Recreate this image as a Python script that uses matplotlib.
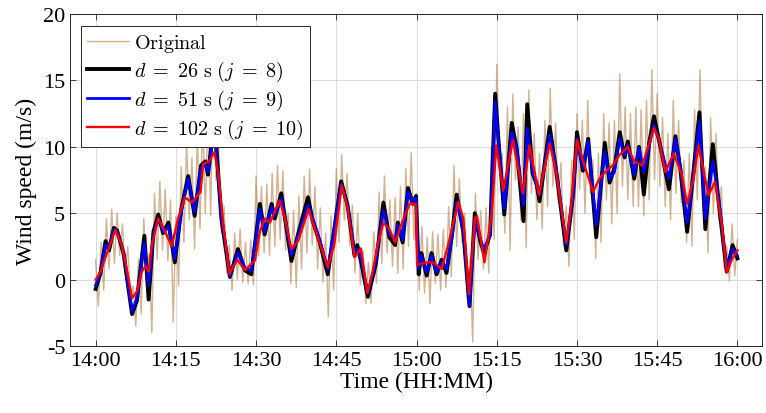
import numpy as np
import matplotlib.pyplot as plt

# minutes after 14:00, values in m/s
red_t = [0, 0.9, 2.2, 3.7, 4.9, 5.9, 6.8, 7.7, 8.6, 9.3, 9.9, 10.5, 11.7, 13.0, 14.2, 15.4, 16.7,
         18.0, 19.6, 20.1, 21.2, 22.2, 23.0, 23.9, 25.0, 26.5, 27.9, 29.8, 30.7, 31.6, 32.6, 34.4,
         35.4, 36.6, 37.9, 39.8, 41.5, 43.4, 44.6, 46.0, 47.1, 48.4, 49.6, 50.8, 51.8, 52.7, 53.8,
         54.9, 56.0, 57.1, 58.7, 59.9, 60.1, 61.9, 63.1, 64.7, 65.9, 67.8, 68.75, 69.8, 70.9, 71.3,
         72.7, 74.1, 74.9, 76.2, 78.0, 79.9, 81.1, 82.9, 84.9, 86.1, 88.0, 88.9, 90.0, 91.4, 93.0,
         94.2, 95.5, 96.7, 98.0, 99.5, 100.7, 102.2, 104.4, 105.3, 106.5, 108.1, 109.6, 110.6,
         111.8, 112.7, 114.6, 115.8, 117.1, 118.0, 119.0, 120.0]
red_v = [0.0, 0.6, 2.1, 3.75, 2.6, 0.6, -1.4, -0.9, 0.6, 1.0, 0.6, 2.6, 4.6, 3.6, 2.5, 4.6, 6.2,
         5.8, 6.6, 8.7, 8.9, 9.6, 7.8, 4.0, 0.45, 1.5, 0.7, 1.45, 3.6, 4.6, 4.3, 5.95,
         4.6, 2.3, 2.95, 5.3, 3.2, 0.95, 2.6, 7.1, 5.4, 1.7, 2.35, -1.0, 0.6, 2.6, 4.3,
         3.8, 2.8, 4.1, 5.7, 5.7, 1.1, 1.3, 1.3, 0.8, 2.6, 5.85, 4.6, -1.1, 4.6, 4.8,
         1.3, 5.1, 10.1, 6.7, 10.5, 6.5, 10.1, 6.4, 10.25, 8.1, 2.8, 5.6, 10.5, 8.6, 6.6,
         7.6, 8.2, 8.6, 9.4, 10.0, 8.9, 8.6, 11.4, 10.6, 8.1, 9.5, 7.9, 5.7,
         7.6, 10.1, 6.35, 7.35, 4.1, 0.55, 1.55, 2.2]

blue_t = [0, 0.9, 1.85, 2.5, 3.4, 4.0, 5.2, 6.8, 7.7, 9.1, 9.9, 10.8, 11.7, 12.6, 13.6, 14.8, 16.0,
          17.3, 18.5, 19.7, 20.5, 21.0, 22.2, 23.5, 25.1, 26.6, 27.9, 29.1, 30.7, 31.6, 32.9, 33.5,
          34.7, 36.6, 37.9, 39.7, 40.6, 41.9, 43.4, 45.9, 47.1, 48.4, 48.9, 49.6, 50.9, 52.4, 53.8,
          54.9, 56.0, 56.5, 57.4, 58.4, 59.3, 59.9, 60.4, 60.9, 61.9, 62.8, 63.75, 64.7, 65.6, 66.6,
          67.5, 68.75, 69.9, 70.9, 71.9, 72.6, 73.75, 74.7, 75.3, 76.4, 77.8, 78.75, 80.0, 80.7,
          81.7, 82.4, 83.0, 84.9, 86.1, 88.0, 89.3, 90.0, 91.1, 92.1, 93.6, 95.2, 96.1, 97.0, 98.0,
          98.9, 99.5, 100.7, 101.6, 102.5, 103.5, 104.4, 105.6, 107.2, 108.4, 109.3, 110.6, 111.7,
          112.9, 114.0, 115.4, 116.5, 118.0, 119.1, 120.0]
blue_v = [-0.4, 0.6, 2.6, 2.4, 3.75, 3.6, 2.1, -2.4, -1.4, 2.75, -0.4, 3.4, 4.6, 3.6, 4.0, 1.6, 5.1,
          7.6, 5.1, 8.4, 8.6, 8.1, 11.3, 4.8, 0.3, 2.05, 0.9, 0.65, 5.3, 3.6, 5.45, 4.8,
          6.1, 1.85, 3.35, 5.6, 4.6, 3.0, 0.8, 7.2, 5.6, 2.1, 2.3, 1.6, -1.0, 1.4, 5.2,
          3.4, 3.0, 4.1, 3.0, 6.6, 5.9, 6.1, 0.85, 1.8, 0.55, 1.8, 0.55, 1.3, 0.8, 3.1,
          5.85, 3.8, -1.95, 4.6, 3.1, 2.3, 3.3, 13.4, 10.6, 5.35, 11.1, 9.9, 5.6, 11.4,
          8.1, 7.1, 6.35, 10.9, 8.4, 2.6, 6.35, 10.6, 8.4, 10.4, 4.1, 9.6, 7.6, 8.1, 10.6,
          9.4, 10.1, 7.9, 9.9, 8.1, 10.1, 11.6, 10.1, 7.6, 10.6, 8.6, 4.3, 7.6,
          11.9, 4.6, 8.9, 6.1, 0.8, 2.3, 1.8]

black_t = blue_t
black_v = [-0.7, 0.5, 2.9, 2.2, 3.9, 3.7, 2.0, -2.6, -1.6, 3.3, -1.5, 3.6, 4.9, 3.5, 4.3, 1.3, 5.3,
           7.8, 4.8, 8.6, 8.9, 7.9, 12.0, 4.6, 0.2, 2.3, 0.7, 0.4, 5.7, 3.4, 5.7, 4.6,
           6.5, 1.4, 3.5, 6.2, 4.4, 2.8, 0.4, 7.4, 5.6, 1.8, 2.6, 1.4, -1.3, 1.2, 5.8,
           3.2, 2.6, 4.3, 2.8, 6.9, 5.7, 6.3, 0.4, 2.0, 0.3, 2.0, 0.4, 1.5, 0.5, 3.3,
           6.4, 3.6, -2.0, 5.0, 2.9, 2.0, 3.4, 14.0, 10.6, 4.9, 11.8, 9.8, 4.4, 13.2,
           8.0, 7.3, 5.9, 11.5, 8.2, 2.2, 6.5, 11.1, 8.2, 10.6, 3.2, 10.3, 7.3, 8.4, 11.1,
           9.2, 10.4, 7.6, 10.0, 6.4, 10.3, 12.3, 10.0, 6.8, 10.8, 8.4, 3.6, 7.8,
           12.6, 3.8, 10.2, 5.8, 0.6, 2.6, 1.6]

# upper and lower extent of the raw signal, one pair per minute
orig_peak = [1.5, 2.8, 4.6, 5.3, 5.0, 4.2, 2.5, -0.5, 1.5, 4.6, 2.0, 6.5, 7.4, 6.8, 6.0, 4.8,
             8.5, 10.4, 9.2, 11.0, 12.3, 13.0, 15.0, 10.0, 5.5, 2.6, 3.5, 3.8, 2.8, 3.0, 7.8,
             7.0, 7.2, 8.0, 8.6, 8.2, 5.0, 5.2, 6.3, 7.8, 8.3, 7.0, 5.4, 3.5, 4.8, 8.4, 9.4,
             8.0, 5.6, 5.0, 2.2, 1.3, 3.6, 6.6, 7.8, 6.0, 6.2, 7.0, 8.4, 9.6, 6.5, 4.0, 3.2,
             3.6, 3.4, 3.8, 5.5, 8.6, 7.6, 5.0, 1.5, 6.5, 5.2, 5.4, 10.0, 16.2, 9.5, 13.0,
             14.0, 11.5, 12.5, 14.3, 11.0, 9.5, 12.0, 14.4, 11.8, 8.8, 5.5, 9.0, 12.5, 12.0,
             13.5, 9.0, 9.5, 12.5, 11.8, 12.0, 15.5, 13.0, 12.5, 13.0, 12.8, 13.5, 15.8, 14.0,
             12.2, 11.0, 13.5, 12.0, 9.0, 9.5, 12.8, 15.8, 8.5, 12.2, 11.0, 7.0, 2.5, 4.2, 3.0]
orig_trough = [-2.0, -0.8, 0.8, 1.2, 1.8, 0.5, -1.5, -3.5, -2.6, 0.0, -4.0, 1.5, 2.2, 1.4, -3.2,
               -0.5, 2.8, 4.5, 2.3, 3.8, 5.0, 4.8, 7.5, 3.5, 0.5, -0.8, 0.0, -0.2, -0.3, -0.4,
               1.8, 2.0, 1.8, 2.5, 3.0, 2.2, -0.3, -0.6, 0.8, 2.0, 2.6, 0.8, -0.2, -2.8, -0.8,
               2.8, 4.5, 2.6, 0.5, -0.4, -1.8, -1.8, -0.3, 1.2, 2.0, 1.0, 0.5, 0.8, 2.5, 3.0,
               -0.8, -1.0, -1.8, -0.3, -0.8, -0.6, 0.2, 2.5, 2.8, -1.5, -4.7, 1.5, 0.8, 0.5,
               3.0, 9.0, 3.5, 2.2, 7.5, 4.5, 2.4, 6.5, 4.5, 3.8, 5.5, 7.0, 5.8, 2.5, 1.0, 3.0,
               6.8, 5.0, 6.5, 1.6, 2.8, 6.0, 4.2, 5.0, 7.0, 6.0, 5.5, 5.5, 4.8, 6.0, 7.5, 7.0,
               5.5, 4.5, 6.5, 5.8, 2.8, 2.5, 6.0, 7.0, 2.0, 5.0, 4.5, 1.0, -0.1, 0.3, 0.6]

tick_min = [0, 15, 30, 45, 60, 75, 90, 105, 120]
tick_lbl = ['14:00', '14:15', '14:30', '14:45', '15:00', '15:15', '15:30', '15:45', '16:00']

# raw signal: peak on the minute, trough half a minute later
orig_t, orig_v = [], []
for i in range(len(orig_peak)):
    orig_t += [i, i + 0.5]
    orig_v += [orig_peak[i], orig_trough[i]]
orig_t, orig_v = orig_t[:-1], orig_v[:-1]

plt.rcParams['font.family'] = 'Liberation Serif'
plt.rcParams['mathtext.fontset'] = 'cm'
plt.rcParams['axes.unicode_minus'] = False

fig = plt.figure(figsize=(7.66, 4.14), dpi=100)
ax = fig.add_axes([0.0914, 0.1618, 0.9034, 0.802])

ax.plot(orig_t, orig_v, color=(0.68, 0.45, 0.22), alpha=0.55, lw=1.0, label=r'$\mathrm{Original}$')
ax.plot(black_t, black_v, color='black', lw=2.8, label=r'$d\;=\;26\ \mathrm{s}\ (j\;=\;8)$')
ax.plot(blue_t, blue_v, color='#0000ff', lw=2.0, label=r'$d\;=\;51\ \mathrm{s}\ (j\;=\;9)$')
ax.plot(red_t, red_v, color='#ff0000', lw=1.7, label=r'$d\;=\;102\ \mathrm{s}\ (j\;=\;10)$')

ax.set_xlim(-4.8, 124.6)
ax.set_ylim(-5, 20)
ax.set_xticks(tick_min)
ax.set_xticklabels(tick_lbl)
ax.set_yticks([-5, 0, 5, 10, 15, 20])
ax.tick_params(direction='in', length=4, width=0.6, labelsize=16, colors='#262626',
               top=True, right=True, labelcolor='black')
ax.grid(True, color='#dcdcdc', lw=0.8)
ax.set_axisbelow(True)
for s in ax.spines.values():
    s.set_color('#262626')
    s.set_linewidth(0.7)

ax.set_xlabel('Time (HH:MM)', fontsize=17, labelpad=1)
ax.set_ylabel('Wind speed (m/s)', fontsize=17, labelpad=4)

leg = ax.legend(loc='upper left', bbox_to_anchor=(0.0155, 0.965), borderaxespad=0,
                fontsize=14.5, fancybox=False, edgecolor='#262626', framealpha=1,
                handlelength=2.1, handletextpad=0.25, labelspacing=0.25, borderpad=0.3)
leg.get_frame().set_linewidth(0.7)

fig.savefig('out.png', dpi=100)
